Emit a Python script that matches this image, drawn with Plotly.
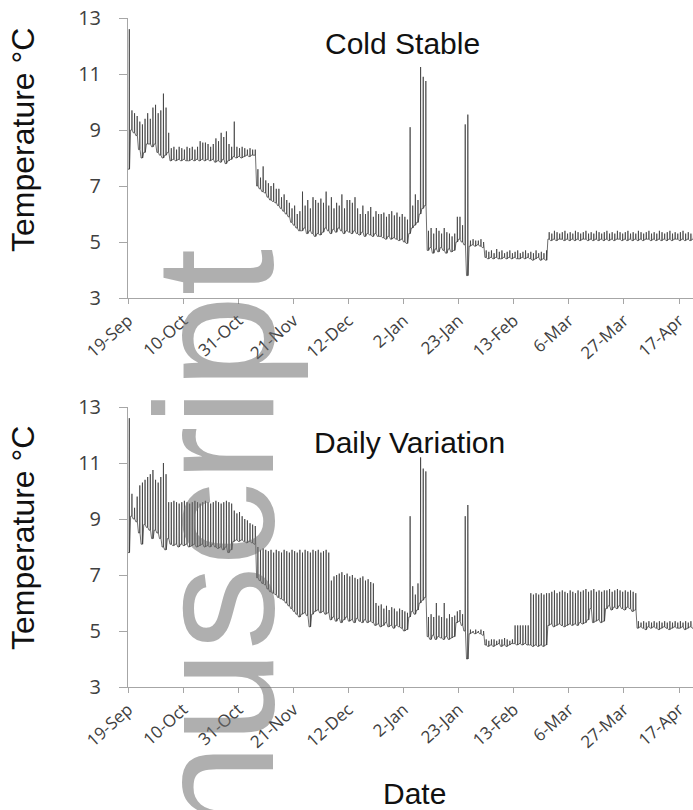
import pandas as pd
import plotly.graph_objects as go

start_date = "2012-09-19"
tick_dates = ["2012-09-19", "2012-10-10", "2012-10-31", "2012-11-21", "2012-12-12",
              "2013-01-02", "2013-01-23", "2013-02-13", "2013-03-06", "2013-03-27", "2013-04-17"]
tick_labels = ["19-Sep", "10-Oct", "31-Oct", "21-Nov", "12-Dec", "2-Jan", "23-Jan",
               "13-Feb", "6-Mar", "27-Mar", "17-Apr"]
y_ticks = [3, 5, 7, 9, 11, 13]

# daily minimum / maximum readings, one value per day from 19-Sep
cold_low = [
    7.6, 9.0, 8.9, 8.8, 8.3, 8.0, 8.2, 8.5, 8.5, 8.4,
    8.5, 8.2, 8.1, 8.0, 8.1, 8.2, 7.9, 7.95, 7.9, 7.95,
    7.9, 7.95, 7.9, 7.9, 7.95, 7.9, 7.95, 7.9, 7.95, 7.9,
    7.95, 7.9, 7.95, 7.85, 7.9, 7.85, 7.95, 7.8, 7.9, 7.95,
    8.05, 8.0, 8.05, 8.0, 8.05, 8.1, 8.05, 8.1, 8.1, 7.0,
    6.9, 6.8, 6.75, 6.6, 6.5, 6.45, 6.4, 6.3, 6.2, 6.1,
    6.0, 5.9, 5.7, 5.6, 5.5, 5.4, 5.4, 5.5, 5.3, 5.4,
    5.3, 5.2, 5.3, 5.25, 5.35, 5.5, 5.4, 5.3, 5.45, 5.35,
    5.5, 5.4, 5.3, 5.4, 5.35, 5.3, 5.4, 5.3, 5.25, 5.35,
    5.2, 5.3, 5.25, 5.2, 5.3, 5.2, 5.2, 5.15, 5.1, 5.2,
    5.1, 5.15, 5.1, 5.05, 5.1, 5.0, 4.95, 5.3, 5.5, 5.6,
    5.7, 6.0, 6.2, 6.3, 4.7, 4.8, 4.6, 4.75, 4.65, 4.8,
    4.7, 4.6, 4.75, 4.65, 4.7, 5.0, 5.1, 5.0, 4.9, 3.8,
    4.85, 4.9, 4.85, 4.9, 4.85, 4.8, 4.45, 4.4, 4.45, 4.4,
    4.45, 4.4, 4.4, 4.45, 4.4, 4.45, 4.4, 4.45, 4.4, 4.4,
    4.45, 4.4, 4.45, 4.4, 4.35, 4.4, 4.45, 4.35, 4.4, 4.35,
    5.1, 5.05, 5.1, 5.05, 5.1, 5.1, 5.05, 5.1, 5.05, 5.1,
    5.05, 5.1, 5.05, 5.1, 5.1, 5.05, 5.1, 5.05, 5.1, 5.05,
    5.1, 5.05, 5.1, 5.05, 5.1, 5.05, 5.1, 5.1, 5.05, 5.1,
    5.05, 5.1, 5.05, 5.1, 5.05, 5.1, 5.05, 5.1, 5.1, 5.05,
    5.1, 5.05, 5.1, 5.05, 5.1, 5.05, 5.1, 5.05, 5.1, 5.1,
    5.05, 5.1, 5.05, 5.1, 5.05, 5.1,
]
cold_high = [
    12.6, 9.7, 9.6, 9.5, 9.3, 9.2, 9.4, 9.6, 9.4, 9.8,
    9.9, 9.6, 9.7, 10.3, 9.8, 8.9, 8.35, 8.4, 8.3, 8.4,
    8.35, 8.3, 8.4, 8.35, 8.4, 8.3, 8.4, 8.6, 8.55, 8.55,
    8.5, 8.4, 8.5, 8.7, 8.6, 8.9, 8.75, 8.95, 8.5, 8.4,
    9.3, 8.4, 8.35, 8.4, 8.35, 8.3, 8.35, 8.3, 8.3, 7.6,
    7.3, 7.7, 7.2, 7.1, 7.0, 7.1, 6.9, 6.9, 6.6, 6.7,
    6.5, 6.4, 6.2, 6.3, 6.0, 6.1, 6.8, 6.3, 6.5, 6.2,
    6.6, 6.5, 6.4, 6.55, 6.4, 6.8, 6.3, 6.6, 6.2, 6.4,
    6.3, 6.7, 6.2, 6.5, 6.5, 6.4, 6.6, 6.2, 6.0, 6.3,
    6.0, 6.1, 6.25, 5.9, 6.1, 6.0, 6.0, 6.05, 5.9, 6.0,
    6.1, 5.95, 6.05, 5.9, 6.0, 5.9, 5.8, 9.1, 6.3, 6.7,
    6.5, 11.25, 10.9, 10.75, 5.4, 5.5, 5.3, 5.5, 5.4, 5.3,
    5.5, 5.35, 5.3, 5.2, 5.3, 5.9, 5.9, 5.6, 9.2, 9.55,
    5.05, 5.1, 5.05, 5.05, 5.1, 5.0, 4.7, 4.65, 4.7, 4.6,
    4.75, 4.65, 4.7, 4.6, 4.65, 4.7, 4.6, 4.65, 4.7, 4.6,
    4.65, 4.7, 4.6, 4.65, 4.6, 4.7, 4.6, 4.65, 4.6, 4.7,
    5.35, 5.3, 5.4, 5.35, 5.3, 5.35, 5.4, 5.3, 5.35, 5.3,
    5.4, 5.35, 5.3, 5.35, 5.4, 5.3, 5.35, 5.3, 5.4, 5.35,
    5.3, 5.35, 5.4, 5.3, 5.35, 5.3, 5.4, 5.35, 5.3, 5.35,
    5.4, 5.3, 5.35, 5.3, 5.4, 5.35, 5.3, 5.35, 5.4, 5.3,
    5.35, 5.3, 5.4, 5.35, 5.3, 5.35, 5.4, 5.3, 5.35, 5.3,
    5.35, 5.4, 5.3, 5.35, 5.3, 5.35,
]
daily_low = [
    7.8, 9.1, 9.0, 8.9, 8.5, 8.1, 8.8, 8.7, 8.6, 8.3,
    8.6, 8.5, 8.3, 8.0, 7.9, 8.3, 8.1, 8.05, 8.1, 8.0,
    8.1, 8.05, 8.1, 8.0, 8.05, 8.1, 8.0, 8.05, 8.1, 8.0,
    8.05, 8.0, 8.1, 8.0, 7.95, 8.0, 7.9, 8.0, 7.8, 7.9,
    8.2, 8.25, 8.2, 8.25, 8.2, 8.15, 8.2, 8.15, 8.1, 6.9,
    6.8, 6.7, 6.65, 6.5, 6.4, 6.35, 6.3, 6.2, 6.15, 6.1,
    6.0, 5.9, 5.8, 5.7, 5.6, 5.5, 5.6, 5.65, 5.55, 5.15,
    5.6, 5.7, 5.75, 5.65, 5.7, 5.6, 5.65, 5.4, 5.5, 5.35,
    5.45, 5.3, 5.4, 5.5, 5.35, 5.4, 5.3, 5.45, 5.35, 5.3,
    5.4, 5.3, 5.35, 5.3, 5.2, 5.25, 5.15, 5.2, 5.3, 5.15,
    5.2, 5.1, 5.2, 5.15, 5.1, 5.0, 5.05, 5.5, 5.7, 5.6,
    5.75, 6.0, 6.1, 6.2, 4.8, 4.7, 4.85, 4.7, 4.8, 4.75,
    4.7, 4.8, 4.7, 4.75, 4.8, 5.3, 5.35, 5.2, 5.0, 4.0,
    4.9, 4.95, 4.9, 4.95, 4.9, 4.85, 4.5, 4.45, 4.5, 4.45,
    4.5, 4.55, 4.45, 4.5, 4.45, 4.5, 4.55, 4.55, 4.5, 4.55,
    4.5, 4.55, 4.5, 4.5, 4.45, 4.5, 4.45, 4.5, 4.45, 4.5,
    5.2, 5.25, 5.15, 5.2, 5.25, 5.2, 5.15, 5.2, 5.25, 5.2,
    5.25, 5.2, 5.3, 5.25, 5.3, 5.4, 5.8, 5.3, 5.35, 5.4,
    5.3, 5.35, 5.8, 5.9, 5.75, 5.85, 5.8, 5.9, 5.8, 5.75,
    5.85, 5.8, 5.7, 5.75, 5.1, 5.15, 5.1, 5.05, 5.15, 5.1,
    5.15, 5.1, 5.05, 5.1, 5.15, 5.1, 5.05, 5.1, 5.15, 5.1,
    5.1, 5.15, 5.05, 5.1, 5.15, 5.1,
]
daily_high = [
    12.6, 9.9, 9.4, 9.8, 10.2, 10.3, 10.4, 10.5, 10.6, 10.75,
    10.4, 10.3, 10.5, 11.0, 10.6, 9.6, 9.6, 9.65, 9.6, 9.55,
    9.6, 9.65, 9.6, 9.55, 9.6, 9.65, 9.6, 9.55, 9.6, 9.65,
    9.6, 9.55, 9.6, 9.65, 9.6, 9.55, 9.6, 9.65, 9.6, 9.55,
    9.3, 9.2, 9.25, 9.1, 9.0, 8.95, 8.85, 8.8, 8.75, 8.0,
    7.9, 7.95, 7.9, 7.85, 7.9, 7.8, 7.9, 7.85, 7.8, 7.9,
    7.85, 7.8, 7.9, 7.85, 7.8, 7.9, 7.8, 7.9, 7.85, 7.8,
    7.9, 7.85, 7.9, 7.8, 7.85, 7.9, 7.8, 6.8, 6.95, 7.0,
    7.05, 7.1, 7.0, 7.05, 6.95, 7.0, 6.9, 6.85, 6.9, 6.95,
    6.8, 6.85, 6.75, 6.7, 6.0, 5.9, 5.95, 5.8, 5.9, 5.75,
    5.85, 5.8, 5.7, 5.8, 5.75, 5.7, 5.65, 9.1, 6.6, 6.3,
    6.7, 11.2, 10.8, 10.7, 5.5, 5.6, 5.5, 6.0, 5.55, 5.5,
    6.0, 5.45, 5.6, 5.5, 5.55, 5.7, 5.75, 5.6, 9.1, 9.5,
    5.05, 5.0, 5.05, 5.0, 5.05, 5.0, 4.7, 4.65, 4.7, 4.7,
    4.65, 4.7, 4.7, 4.75, 4.7, 4.65, 4.7, 5.2, 5.2, 5.2,
    5.2, 5.2, 5.2, 6.35, 6.3, 6.35, 6.3, 6.35, 6.3, 6.35,
    6.35, 6.4, 6.45, 6.35, 6.4, 6.45, 6.4, 6.35, 6.45, 6.4,
    6.35, 6.45, 6.4, 6.45, 6.5, 6.4, 6.45, 6.5, 6.4, 6.45,
    6.4, 6.45, 6.45, 6.5, 6.4, 6.45, 6.5, 6.45, 6.4, 6.45,
    6.4, 6.45, 6.4, 6.35, 5.35, 5.3, 5.35, 5.3, 5.35, 5.3,
    5.35, 5.3, 5.35, 5.3, 5.35, 5.3, 5.35, 5.3, 5.35, 5.3,
    5.35, 5.3, 5.35, 5.3, 5.35, 5.3,
]

W, H = 693, 810
t0 = pd.Timestamp(start_date)


def series_xy(lows, highs):
    xs, ys = [], []
    for d, (lo, hi) in enumerate(zip(lows, highs)):
        for frac, v in ((0.0, lo), (0.42, lo), (0.5, hi), (0.58, lo)):
            xs.append(t0 + pd.Timedelta(hours=24 * (d + frac)))
            ys.append(v)
    return xs, ys


def px(x):
    return x / W


def py(y):
    return 1 - y / H


fig = go.Figure()
line_style = dict(color="#303030", width=0.7)
cx, cy = series_xy(cold_low, cold_high)
dx, dy = series_xy(daily_low, daily_high)
fig.add_trace(go.Scatter(x=cx, y=cy, mode="lines", line=line_style, xaxis="x", yaxis="y",
                         showlegend=False, hoverinfo="skip"))
fig.add_trace(go.Scatter(x=dx, y=dy, mode="lines", line=line_style, xaxis="x2", yaxis="y2",
                         showlegend=False, hoverinfo="skip"))

x_end = t0 + pd.Timedelta(hours=24 * 215.3)
axis_line = dict(showline=True, linecolor="#a6a6a6", linewidth=1, ticks="outside",
                 tickcolor="#a6a6a6", showgrid=False, zeroline=False, automargin=False)
xa = dict(axis_line, type="date", range=[t0, x_end], domain=[px(128), 1],
          tickvals=tick_dates, ticktext=tick_labels, tickangle=-42, ticklen=5,
          tickfont=dict(family="Open Sans", size=17, color="#404040"))
ya = dict(axis_line, range=[3, 13], tickvals=y_ticks, ticklen=8, ticklabelstandoff=14,
          tickfont=dict(family="Open Sans", size=20, color="#404040"))

fig.update_layout(
    width=W, height=H, margin=dict(l=0, r=0, t=0, b=0, autoexpand=False),
    paper_bgcolor="white", plot_bgcolor="white",
    xaxis=dict(xa, anchor="y"),
    yaxis=dict(ya, domain=[py(298), py(18)], anchor="x"),
    xaxis2=dict(xa, anchor="y2"),
    yaxis2=dict(ya, domain=[py(687), py(407)], anchor="x2"),
)

title_font = dict(family="Liberation Sans, Arial", size=30, color="#111111")
axis_title_font = dict(family="Liberation Sans, Arial", size=32, color="#111111")
annotations = [
    dict(text="Cold Stable", x=px(402), y=py(43), font=title_font),
    dict(text="Daily Variation", x=px(409), y=py(442), font=title_font),
    dict(text="Date", x=px(414), y=py(793), font=title_font),
    dict(text="Temperature °C", x=px(23), y=py(140), textangle=-90, font=axis_title_font),
    dict(text="Temperature °C", x=px(23), y=py(538), textangle=-90, font=axis_title_font),
]
for a in annotations:
    fig.add_annotation(dict(a, xref="paper", yref="paper", showarrow=False,
                            xanchor="center", yanchor="middle"))

fig.add_annotation(text="nuscript", x=px(215), y=py(543), xref="paper", yref="paper",
                   showarrow=False, textangle=-90, xanchor="center", yanchor="middle",
                   font=dict(family="Liberation Sans, Arial", size=168,
                             color="rgba(110,110,110,0.55)"))

fig.write_html("out.html")
